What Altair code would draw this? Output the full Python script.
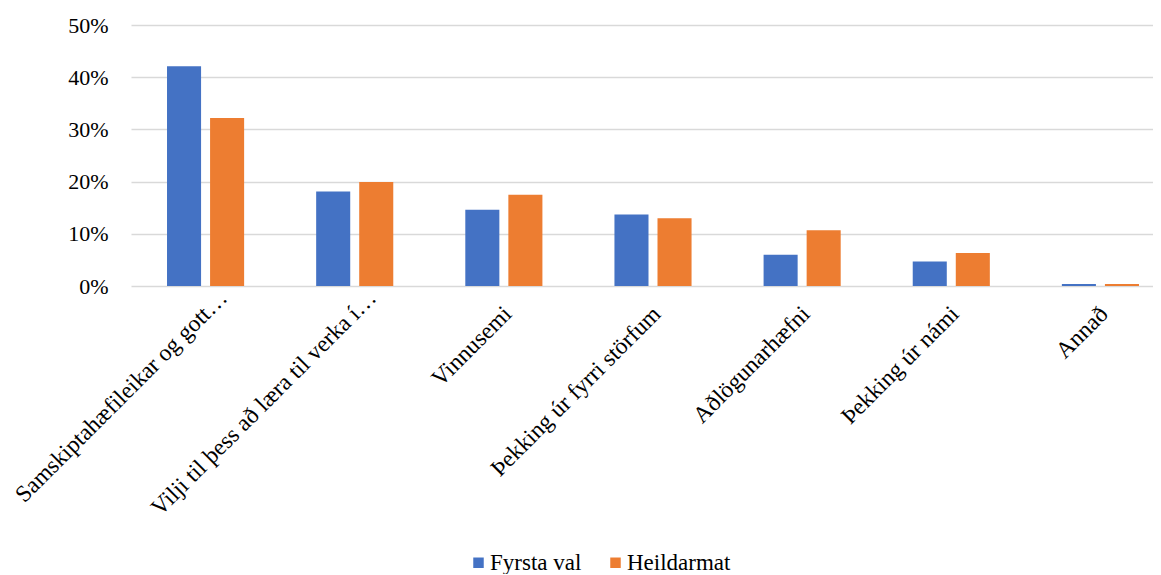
import altair as alt
import pandas as pd

categories = [
    "Samskiptahæfileikar og gott…",
    "Vilji til þess að læra til verka í…",
    "Vinnusemi",
    "Þekking úr fyrri störfum",
    "Aðlögunarhæfni",
    "Þekking úr námi",
    "Annað",
]
series_names = ["Fyrsta val", "Heildarmat"]
fyrsta_val = [0.421, 0.181, 0.146, 0.137, 0.060, 0.047, 0.004]
heildarmat = [0.322, 0.199, 0.175, 0.130, 0.107, 0.063, 0.004]
y_ticks = [0, 0.1, 0.2, 0.3, 0.4, 0.5]
colors = ["#4472C4", "#ED7D31"]

rows = []
for c, a, b in zip(categories, fyrsta_val, heildarmat):
    rows.append({"cat": c, "series": series_names[0], "value": a})
    rows.append({"cat": c, "series": series_names[1], "value": b})
df = pd.DataFrame(rows)

FONT = "Liberation Serif"

chart = alt.Chart(df).mark_bar().encode(
    x=alt.X(
        "cat:N",
        sort=categories,
        title=None,
        scale=alt.Scale(range=[0, 1044], paddingInner=0.483, paddingOuter=0.2415),
        axis=alt.Axis(
            labelAngle=-45,
            labelAlign="right",
            labelBaseline="middle",
            labelFont=FONT,
            labelFontSize=23.5,
            labelColor="#000000",
            labelLimit=400,
            labelOverlap=False,
            labelOffset={"condition": {"test": "indexof(datum.label, '…') >= 0", "value": 18}, "value": 4},
            labelPadding={"condition": {"test": "indexof(datum.label, '…') >= 0", "value": 8}, "value": 24},
            domain=False,
            ticks=False,
            grid=False,
        ),
    ),
    xOffset=alt.XOffset("series:N", sort=series_names,
                        scale=alt.Scale(paddingInner=0.209, paddingOuter=0)),
    y=alt.Y(
        "value:Q",
        title=None,
        scale=alt.Scale(domain=[0, 0.5], nice=False),
        axis=alt.Axis(
            values=y_ticks,
            format=".0%",
            labelFont=FONT,
            labelFontSize=22,
            labelColor="#000000",
            labelPadding=23,
            domain=False,
            ticks=False,
            grid=True,
            gridColor="#d9d9d9",
            gridWidth=1.4,
        ),
    ),
    color=alt.Color(
        "series:N",
        sort=series_names,
        scale=alt.Scale(domain=series_names, range=colors),
        legend=alt.Legend(
            title=None,
            orient="none",
            direction="horizontal",
            legendX=336,
            legendY=526,
            symbolType="square",
            symbolSize=110,
            symbolStrokeWidth=0,
            labelFont=FONT,
            labelFontSize=23,
            labelColor="#000000",
            labelOffset=0,
            columnPadding=22,
            padding=0,
        ),
    ),
).properties(
    width=1022,
    height=261,
    autosize=alt.AutoSizeParams(type="none"),
    padding={"left": 123, "top": 17, "right": 0, "bottom": 288},
).configure_view(stroke=None)

chart.save("out.html", embed_options={"renderer": "svg", "actions": False})
